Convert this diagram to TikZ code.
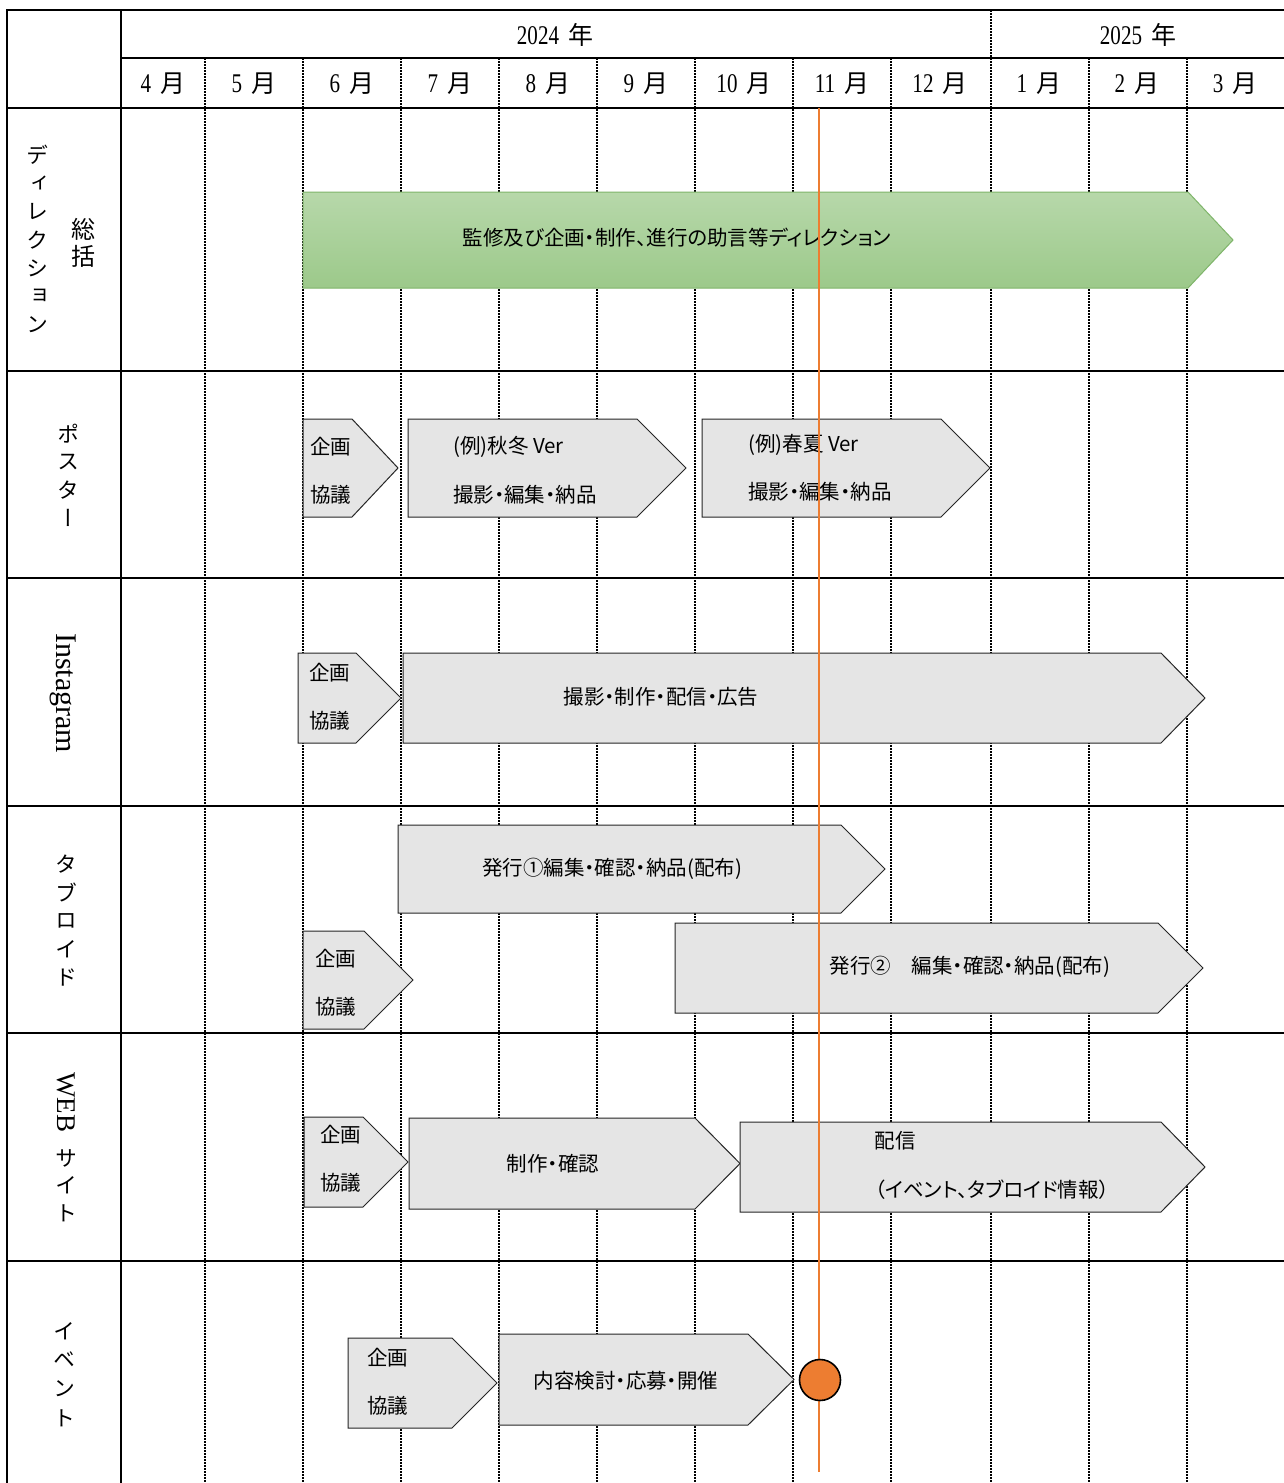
\documentclass[tikz,border=0pt]{standalone}
\usepackage{fontspec}
\setmainfont{Noto Sans CJK JP}
\newfontfamily\numfont{Liberation Serif}[FakeStretch=0.78]
\newfontfamily\latinserif{Liberation Serif}
\newfontfamily\vertfont{Noto Sans CJK JP}[RawFeature=+vert]
\newfontfamily\boxfont{Noto Sans CJK JP}[RawFeature=+palt]
\definecolor{boxgray}{HTML}{E5E5E5}
\definecolor{boxline}{HTML}{262626}
\definecolor{gtop}{HTML}{B7D8AA}
\definecolor{gbot}{HTML}{9CC98A}
\definecolor{gline}{HTML}{7FB56A}
\definecolor{evorange}{HTML}{ED7D31}
\newcommand\chev[6]{\draw[#1] (#2,#3) -- (#4,#3) -- (#5,{(#3+#6)/2}) -- (#4,#6) -- (#2,#6) -- cycle;}
\newcommand\monthlbl[1]{{\numfont\fontsize{27}{30}\selectfont #1}\hspace{9pt}月}
\tikzset{
  grayshape/.style={fill=boxgray, draw=boxline, line width=1pt, line join=miter},
  greenshape/.style={top color=gtop, bottom color=gbot, draw=gline, line width=1pt},
  boxtxt/.style={inner sep=0pt, font=\boxfont\fontsize{20.5}{24}\selectfont},
  hdrtxt/.style={inner sep=0pt, font=\fontsize{25}{28}\selectfont},
  vtxt/.style={inner sep=0pt, font=\vertfont\fontsize{22}{26}\selectfont},
  monthdiv/.style={line width=1.1pt, dash pattern=on 2pt off 1pt},
  rule/.style={line width=2pt},
  thickrule/.style={line width=2.6pt},
  orangeline/.style={draw=evorange, line width=1.3pt}
}
\begin{document}
\begin{tikzpicture}[x=1pt, y=-1pt]
\useasboundingbox (0,0) rectangle (1284,1483);
\fill[white] (0,0) rectangle (1284,1483);
% month dividers
\foreach \xx in {205,303,401,499,597,695,793,891,991,1089,1187}
  \draw[monthdiv] (\xx,58) -- (\xx,1483);
\draw[monthdiv] (991,10) -- (991,58);
% table rules
\draw[rule] (7,10) -- (1284,10);
\draw[rule] (121,58) -- (1284,58);
\draw[rule] (7,108) -- (1284,108);
\draw[thickrule] (7,371) -- (1284,371);
\draw[thickrule] (7,578) -- (1284,578);
\draw[rule] (7,806) -- (1284,806);
\draw[rule] (7,1033) -- (1284,1033);
\draw[rule] (7,1261) -- (1284,1261);
\draw[rule] (7,9) -- (7,1483);
\draw[rule] (121,9) -- (121,1483);
% header texts
\node[hdrtxt] (y2024) at (555,35) {{\numfont\fontsize{27}{30}\selectfont 2024}\hspace{9pt}年};
\node[hdrtxt] (y2025) at (1138,35) {{\numfont\fontsize{27}{30}\selectfont 2025}\hspace{9pt}年};
\foreach \m/\xx [count=\i] in {4/163,5/254,6/352,7/450,8/548,9/646,10/744,11/842,12/940,1/1039,2/1137,3/1235}
  \node[hdrtxt] (m\i) at (\xx,84) {\monthlbl{\m}};
% row labels
\foreach \c [count=\i] in {デ,ィ,レ,ク,シ,ョ,ン}
  \node[vtxt] (lbdir\i) at (37,{155+28.3*(\i-1)}) {\c};
\foreach \c [count=\i] in {総,括}
  \node[vtxt, font=\vertfont\fontsize{24}{28}\selectfont] (lbsou\i) at (83,{229+27*(\i-1)}) {\c};
\foreach \c [count=\i] in {ポ,ス,タ,ー}
  \node[vtxt] (lbpos\i) at (68,{434+28*(\i-1)}) {\c};
\node[inner sep=0pt, rotate=-90, font=\latinserif\fontsize{30}{33}\selectfont] (lbinsta) at (63,693) {Instagram};
\foreach \c [count=\i] in {タ,ブ,ロ,イ,ド}
  \node[vtxt] (lbtab\i) at (66,{864+28.4*(\i-1)}) {\c};
\node[inner sep=0pt, rotate=-90, font=\latinserif\fontsize{27}{30}\selectfont] (lbweb) at (66,1102) {WEB};
\foreach \c [count=\i] in {サ,イ,ト}
  \node[vtxt] (lbsite\i) at (66,{1158+27.5*(\i-1)}) {\c};
\foreach \c [count=\i] in {イ,ベ,ン,ト}
  \node[vtxt] (lbevt\i) at (64,{1331+29*(\i-1)}) {\c};
% shapes
\chev{greenshape}{303}{192}{1188}{1233}{288}
\chev{grayshape}{303}{419}{352}{398}{517}
\chev{grayshape}{408}{419}{637}{686}{517}
\chev{grayshape}{702}{419}{941}{990}{517}
\chev{grayshape}{298}{653}{356}{401}{743}
\chev{grayshape}{403}{653}{1161}{1205}{743}
\chev{grayshape}{398}{825}{841}{885}{913}
\chev{grayshape}{303}{931}{364}{413}{1029}
\chev{grayshape}{675}{923}{1158}{1203}{1013}
\chev{grayshape}{304}{1117}{363}{408}{1207}
\chev{grayshape}{409}{1118}{695}{740}{1209}
\chev{grayshape}{740}{1122}{1161}{1205}{1212}
\chev{grayshape}{348}{1338}{452}{497}{1428}
\chev{grayshape}{499}{1334}{748}{794}{1425}
% box texts
\node[boxtxt] (tdir) at (677,238) {監修及び企画・制作、進行の助言等ディレクション};
\node[boxtxt, anchor=west] (tp1a) at (310,447) {企画};
\node[boxtxt, anchor=west] (tp1b) at (310,495) {協議};
\node[boxtxt, anchor=west] (tp2a) at (453,447) {(例)秋冬 Ver};
\node[boxtxt, anchor=west] (tp2b) at (453,495) {撮影・編集・納品};
\node[boxtxt, anchor=west] (tp3a) at (748,445) {(例)春夏 Ver};
\node[boxtxt, anchor=west] (tp3b) at (748,492) {撮影・編集・納品};
\node[boxtxt, anchor=west] (ti1a) at (309,673) {企画};
\node[boxtxt, anchor=west] (ti1b) at (309,721) {協議};
\node[boxtxt] (ti2) at (661,697) {撮影・制作・配信・広告};
\node[boxtxt] (tt1) at (612,869) {発行①編集・確認・納品(配布)};
\node[boxtxt, anchor=west] (tt2a) at (315,959) {企画};
\node[boxtxt, anchor=west] (tt2b) at (315,1007) {協議};
\node[boxtxt] (tt3) at (970,967) {発行②　編集・確認・納品(配布)};
\node[boxtxt, anchor=west] (tw1a) at (320,1135) {企画};
\node[boxtxt, anchor=west] (tw1b) at (320,1183) {協議};
\node[boxtxt] (tw2) at (553,1164) {制作・確認};
\node[boxtxt] (tw3a) at (895,1141) {配信};
\node[boxtxt] (tw3b) at (992,1190) {（イベント、タブロイド情報）};
\node[boxtxt, anchor=west] (te1a) at (367,1358) {企画};
\node[boxtxt, anchor=west] (te1b) at (367,1406) {協議};
\node[boxtxt] (te2) at (626,1381) {内容検討・応募・開催};
% today line and event marker
\coordinate (nowtop) at (819,108);
\coordinate (nowbot) at (819,1472);
\draw[orangeline] (nowtop) -- (nowbot);
\node[circle, fill=evorange, draw=black, line width=1.6pt, minimum size=41pt, inner sep=0pt] (evtdot) at (820,1380) {};
\end{tikzpicture}
\end{document}
